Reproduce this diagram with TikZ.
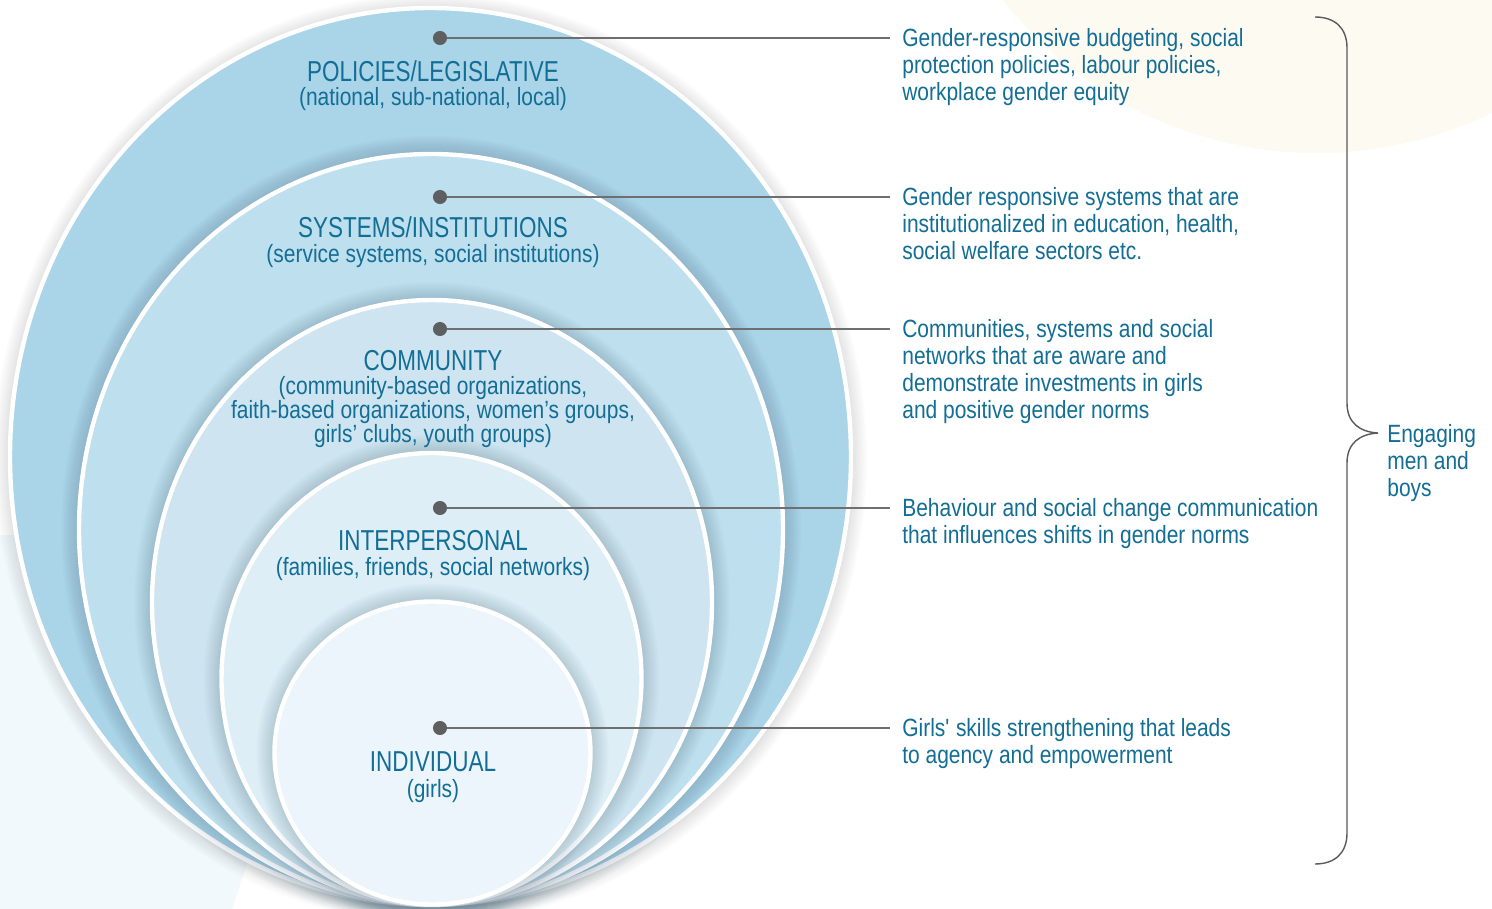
\documentclass[tikz,border=0pt]{standalone}
\usepackage{fontspec}
\setmainfont{Liberation Sans}[FakeStretch=0.84]
\newfontfamily\ttlfamily{Liberation Sans}[FakeStretch=0.78]
\definecolor{txtc}{HTML}{136E96}
\definecolor{dotc}{HTML}{5E5F61}
\definecolor{linec}{HTML}{6E6F71}
\definecolor{bracec}{HTML}{5A5A5A}
\definecolor{cream}{HTML}{FDFAF2}
\definecolor{paleblue}{HTML}{F2F9FC}
\definecolor{ringa}{HTML}{AAD4E8}
\definecolor{ringb}{HTML}{BEDFEE}
\definecolor{ringc}{HTML}{CEE5F1}
\definecolor{ringd}{HTML}{DDEEF6}
\definecolor{ringe}{HTML}{ECF5FB}
\definecolor{shc}{HTML}{4A6B80}
\tikzset{
  ttl/.style={font=\ttlfamily\fontsize{16.4}{17}\selectfont, text=txtc, inner sep=0pt, anchor=base},
  sublbl/.style={font=\fontsize{14.2}{13.6}\selectfont, text=txtc, inner sep=0pt, align=center},
  desc/.style={font=\fontsize{14.2}{15.3}\selectfont, text=txtc, inner sep=0pt, align=left, anchor=north west},
  leaddot/.style={circle, fill=dotc, inner sep=0pt, minimum size=8pt},
  leader/.style={draw=linec, line width=0.6pt},
  ringborder/.style={draw=white, line width=2.5pt},
}
\begin{document}
\begin{tikzpicture}[x=0.02cm, y=-0.02cm]
\useasboundingbox (0,0) rectangle (1492,909);
\fill[white] (0,0) rectangle (1492,909);
% background shapes
\begin{scope}
\clip (0,0) rectangle (1492,909);
\fill[cream] (1317,-246) circle [radius=399];
\fill[paleblue] (0,535) -- (200,535) -- (272,790) -- (232,909) -- (0,909) -- cycle;
\end{scope}
% outer shadow
\foreach \k in {1,...,10}{
  \fill[black!45, opacity=0.025] (430.5,458.5) ellipse [x radius=420.5+1.6*\k, y radius=448.5+1.6*\k];
}
% ring 1
\fill[ringa] (430.5,456.5) ellipse [x radius=420.5, y radius=448.5];
\draw[ringborder] (430.5,456.5) ellipse [x radius=420.5, y radius=448.5];
% ring 2
\foreach \k in {1,...,12}{
  \fill[shc, opacity=0.022] (431,529.5) ellipse [x radius=352+1.5*\k, y radius=375.5+1.5*\k];
}
\fill[ringb] (431,529.5) ellipse [x radius=352, y radius=375.5];
\draw[ringborder] (431,529.5) ellipse [x radius=352, y radius=375.5];
% ring 3
\foreach \k in {1,...,12}{
  \fill[shc, opacity=0.022] (432,602.5) ellipse [x radius=280+1.5*\k, y radius=302.5+1.5*\k];
}
\fill[ringc] (432,602.5) ellipse [x radius=280, y radius=302.5];
\draw[ringborder] (432,602.5) ellipse [x radius=280, y radius=302.5];
% ring 4
\foreach \k in {1,...,12}{
  \fill[shc, opacity=0.022] (431.5,679) ellipse [x radius=210+1.5*\k, y radius=226+1.5*\k];
}
\fill[ringd] (431.5,679) ellipse [x radius=210, y radius=226];
\draw[ringborder] (431.5,679) ellipse [x radius=210, y radius=226];
% ring 5
\foreach \k in {1,...,12}{
  \fill[shc, opacity=0.022] (432.5,753) ellipse [x radius=158+1.5*\k, y radius=151.5+1.5*\k];
}
\fill[ringe] (432.5,753) ellipse [x radius=158, y radius=151.5];
\draw[ringborder] (432.5,753) ellipse [x radius=158, y radius=151.5];

% labels inside rings
\node[ttl] (t1) at (433,81.5) {POLICIES/LEGISLATIVE};
\node[sublbl, anchor=base] (s1) at (433,106) {(national, sub-national, local)};
\node[ttl] (t2) at (433,237.5) {SYSTEMS/INSTITUTIONS};
\node[sublbl, anchor=base] (s2) at (433,262) {(service systems, social institutions)};
\node[ttl] (t3) at (433,370) {COMMUNITY};
\node[sublbl, anchor=north] (s3) at (433,376) {(community-based organizations,\\faith-based organizations, women’s groups,\\girls’ clubs, youth groups)};
\node[ttl] (t4) at (433,550) {INTERPERSONAL};
\node[sublbl, anchor=base] (s4) at (433,575) {(families, friends, social networks)};
\node[ttl] (t5) at (433,771) {INDIVIDUAL};
\node[sublbl, anchor=base] (s5) at (433,797) {(girls)};

% dots and leaders
\node[leaddot] (d1) at (440,38) {};
\node[leaddot] (d2) at (440,197) {};
\node[leaddot] (d3) at (440,329) {};
\node[leaddot] (d4) at (440,508) {};
\node[leaddot] (d5) at (440,728) {};
\coordinate (e1) at (890,38);
\coordinate (e2) at (890,197);
\coordinate (e3) at (890,329);
\coordinate (e4) at (890,508);
\coordinate (e5) at (890,728);
\draw[leader] (d1) -- (e1);
\draw[leader] (d2) -- (e2);
\draw[leader] (d3) -- (e3);
\draw[leader] (d4) -- (e4);
\draw[leader] (d5) -- (e5);

% descriptions
\node[desc] (r1) at (902,28.5) {Gender-responsive budgeting, social\\protection policies, labour policies,\\workplace gender equity};
\node[desc] (r2) at (902,187.5) {Gender responsive systems that are\\institutionalized in education, health,\\social welfare sectors etc.};
\node[desc] (r3) at (902,319.5) {Communities, systems and social\\networks that are aware and\\demonstrate investments in girls\\and positive gender norms};
\node[desc] (r4) at (902,498.5) {Behaviour and social change communication\\that influences shifts in gender norms};
\node[desc] (r5) at (902,718.5) {Girls\textquotesingle{} skills strengthening that leads\\to agency and empowerment};

% brace
\coordinate (btop) at (1315,17);
\coordinate (btip) at (1378,433);
\coordinate (bbot) at (1315,864);
\draw[bracec, line width=0.8pt] (btop) .. controls (1335,17) and (1347,28) .. (1347,48)
  -- (1347,403) .. controls (1347,423) and (1360,432) .. (btip)
  .. controls (1360,434) and (1347,443) .. (1347,463)
  -- (1347,833) .. controls (1347,853) and (1335,864) .. (bbot);
\node[desc] (eng) at (1387,424.5) {Engaging\\men and\\boys};
\end{tikzpicture}
\end{document}
